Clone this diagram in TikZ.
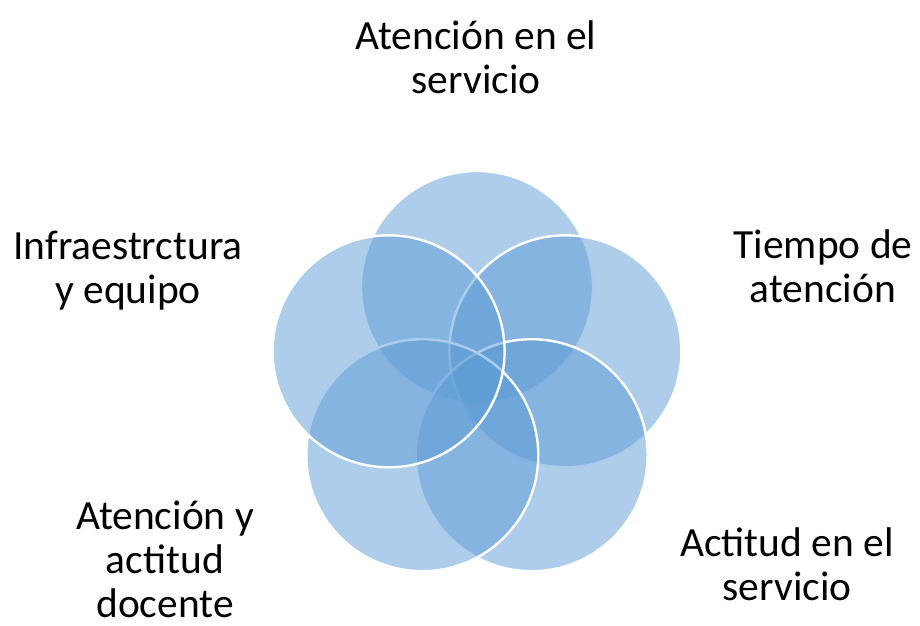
\documentclass[tikz,border=0pt]{standalone}
\usepackage{fontspec}
\setmainfont{Carlito}
\usetikzlibrary{positioning}
\definecolor{petal}{HTML}{5B9BD5}
\tikzset{
  petal/.style={circle, minimum size=232*0.025cm, inner sep=0pt, fill=petal, fill opacity=0.5, draw=white, line width=1.7pt},
  tag/.style={align=center, anchor=base, inner sep=0pt, font=\fontsize{29.5}{31.2}\selectfont}
}

\begin{document}
\begin{tikzpicture}[x=0.025cm, y=-0.025cm]
        \useasboundingbox (0,0) rectangle (920,625);
        % the five overlapping circles, clockwise from the top
        \node(P1) [petal] at (477,287) {};
        \node(P2) [petal] at (565.4,351.3) {};
        \node(P3) [petal] at (531.7,455.2) {};
        \node(P4) [petal] at (422.3,455.2) {};
        \node(P5) [petal] at (388.6,351.3) {};
        % labels (placed at the baseline of their last line)
        \node(L1) [tag] at (476,93) {Atención en el\\servicio};
        \node(L2) [tag] at (823,302) {Tiempo de\\atención};
        \node(L3) [tag] at (787,600) {Actitud en el\\servicio};
        \node(L4) [tag] at (165,617) {Atención y\\actitud\\docente};
        \node(L5) [tag] at (128,303) {Infraestrctura\\y equipo};
    \end{tikzpicture}
\end{document}
